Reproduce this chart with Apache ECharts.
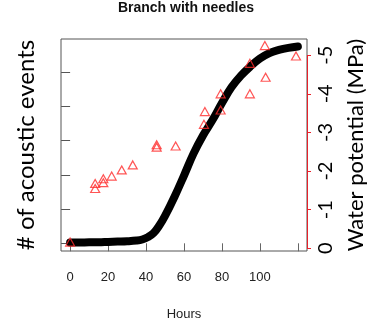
<!DOCTYPE html>
<html>
<head>
<meta charset="utf-8">
<script src="https://cdn.jsdelivr.net/npm/echarts@6/dist/echarts.min.js"></script>
<style>
html,body{margin:0;padding:0;background:#fff;}
#chart{width:372px;height:333px;}
</style>
</head>
<body>
<div id="chart"></div>
<script>
// Cumulative acoustic events (black curve), hours vs. relative count
const curveHours = [0,5,10,15,20,25,30,35,38,41,44,47,50,55,60,65,70,75,80,85,90,95,100,105,110,115,120];
const curveEvents = [0.02,0.02,0.03,0.03,0.04,0.05,0.06,0.08,0.11,0.18,0.3,0.52,0.8,1.36,1.98,2.62,3.15,3.6,4.1,4.56,4.9,5.17,5.4,5.56,5.65,5.71,5.75];

// Water potential (red triangles)
const wpHours = [0,13.2,13.2,17.5,17.5,21.9,27.2,33,45.6,45.6,55.6,70.5,71,79.3,79.3,94.7,94.7,103,102.6,119];
const wpValues = [-0.16,-1.55,-1.68,-1.7,-1.8,-1.87,-2.03,-2.16,-2.62,-2.68,-2.65,-3.21,-3.54,-3.58,-4.0,-4.0,-4.79,-4.43,-5.25,-4.98];

const xTicks = [0,20,40,60,80,100,120];
const xLabels = [0,20,40,60,80,100];
const leftTicks = [0,1,2,3,4,5];
const rightTicks = [0,-1,-2,-3,-4,-5];

const X_MIN = -4.8, X_MAX = 124.8;

const chart = echarts.init(document.getElementById('chart'), null, {renderer:'canvas'});
const sansA = 'Liberation Sans, Arial, sans-serif';
const sansB = 'Lato, Open Sans, sans-serif';

chart.setOption({
  animation:false,
  backgroundColor:'#fff',
  title:{
    text:'Branch with needles',
    left:'center',
    top:-4,
    textStyle:{fontFamily:sansA,fontWeight:'bold',fontSize:14,color:'#111'}
  },
  grid:{left:61,right:65,top:39,bottom:82,outerBoundsMode:'none',containLabel:false,show:true,borderColor:'#555',borderWidth:1,backgroundColor:'transparent'},
  xAxis:{
    type:'value',min:X_MIN,max:X_MAX,
    name:'Hours',nameLocation:'middle',nameGap:57,
    nameTextStyle:{fontFamily:sansA,fontSize:13,color:'#222'},
    axisLine:{show:false},
    splitLine:{show:false},
    axisTick:{show:true,length:8,inside:false,customValues:xTicks,lineStyle:{color:'#666',width:1}},
    axisLabel:{show:true,customValues:xLabels,margin:20,fontFamily:sansA,fontSize:13,color:'#222'}
  },
  yAxis:[
    {
      type:'value',min:-0.225,max:5.97,position:'left',
      name:'# of acoustic events',nameLocation:'middle',nameRotate:90,nameGap:23,
      nameTextStyle:{fontFamily:sansB,fontSize:24,color:'#000'},
      axisLine:{show:false},splitLine:{show:false},
      axisTick:{show:true,length:9,customValues:leftTicks,lineStyle:{color:'#555',width:1}},
      axisLabel:{show:false,customValues:leftTicks}
    },
    {
      type:'value',min:-5.42,max:0.07,inverse:true,position:'right',
      name:'Water potential (MPa)',nameLocation:'middle',nameRotate:90,nameGap:38,
      nameTextStyle:{fontFamily:sansB,fontSize:22,color:'#000'},
      axisLine:{show:false},splitLine:{show:false},
      axisTick:{show:true,length:4,customValues:rightTicks,lineStyle:{color:'#e8202a',width:1}},
      axisLabel:{show:true,customValues:rightTicks,rotate:90,margin:9,fontFamily:sansB,fontSize:20,color:'#000'}
    }
  ],
  series:[
    {
      type:'line',xAxisIndex:0,yAxisIndex:0,
      data:curveHours.map((h,i)=>[h,curveEvents[i]]),
      smooth:0.4,showSymbol:false,
      lineStyle:{color:'#000',width:8,cap:'round',join:'round'},
      z:2
    },
    {
      type:'scatter',xAxisIndex:0,yAxisIndex:1,
      data:wpHours.map((h,i)=>[h,wpValues[i]]),
      symbol:'triangle',symbolSize:[9,8],
      itemStyle:{color:'rgba(0,0,0,0)',borderColor:'#ff2a2a',borderWidth:1.2},
      z:3,
      markLine:{
        silent:true,symbol:'none',animation:false,
        lineStyle:{color:'#e8202a',width:1,type:'solid'},
        label:{show:false},
        data:[[{coord:[X_MAX,rightTicks[0]]},{coord:[X_MAX,rightTicks[rightTicks.length-1]]}]]
      }
    }
  ]
});
</script>
</body>
</html>
